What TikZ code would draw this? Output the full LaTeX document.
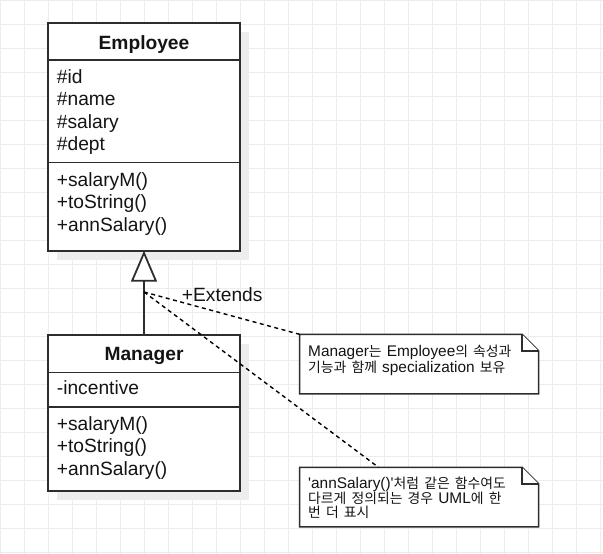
\documentclass[tikz,border=0pt]{standalone}
\usepackage{fontspec}
\setmainfont{Liberation Sans}
\newfontfamily\notefont{Liberation Sans}
\newfontfamily\krfont{Noto Sans CJK KR}[Scale=0.9]
\usetikzlibrary{positioning,arrows.meta,shadows}
\definecolor{gridgrey}{RGB}{236,236,236}
\definecolor{shadowgrey}{RGB}{237,237,237}
\definecolor{umlline}{RGB}{45,45,45}
\definecolor{umltext}{RGB}{20,20,20}
\newcommand{\kr}[1]{{\krfont #1}}

\begin{document}
\begin{tikzpicture}[x=1pt,y=-1pt,
  classpart/.style={draw=umlline,line width=1.6pt,fill=white,inner sep=0pt,outer sep=0pt,minimum width=192pt,
    drop shadow={shadow xshift=9pt,shadow yshift=-9pt,fill=shadowgrey,opacity=1}},
  divider/.style={draw=umlline,line width=1.6pt},
  member/.style={inner sep=0pt,text=umltext,font=\fontsize{19.2}{22.6}\selectfont},
  members/.style={member,text width=180pt,align=left,anchor=base west},
  notetext/.style={inner sep=0pt,text=umltext,text width=235pt,align=left,anchor=base west,
    font=\notefont\fontsize{15.4}{14.2}\selectfont},
  notebox/.style={inner sep=0pt,outer sep=0pt,minimum width=239pt,minimum height=59.5pt,anchor=north west},
  noteline/.style={draw=umlline,line width=1.5pt,fill=white},
  dashedline/.style={draw=black,line width=1.4pt,dash pattern=on 4pt off 3.5pt},
  extendsline/.style={draw=umlline,line width=1.8pt,-{Triangle[width=26pt,length=31pt,fill=white]}}]
\useasboundingbox (0,0) rectangle (603,554);
\fill[white] (0,0) rectangle (603,554);
\draw[gridgrey,line width=1pt,step=24pt] (0pt,0pt) grid (603pt,-554pt);

\node[classpart,anchor=north west,minimum height=37pt] (emphead) at (48,23) {};
\node[classpart,minimum height=102.3pt,below=0pt of emphead] (empattr) {};
\node[classpart,minimum height=88.4pt,below=0pt of empattr] (empops) {};
\draw[divider] (empattr.north west) -- (empattr.north east);
\draw[divider] (empops.north west) -- (empops.north east);
\node[member,anchor=base,font=\fontsize{19.2}{22.6}\selectfont\bfseries] (empname) at ([yshift=-26pt]emphead.north) {Employee};
\node[members] (empattrtext) at ([xshift=8.7pt,yshift=-23pt]empattr.north west) {\#id\\\#name\\\#salary\\\#dept};
\node[members] (empopstext) at ([xshift=8.7pt,yshift=-24pt]empops.north west) {+salaryM()\\+toString()\\+annSalary()};

\node[classpart,anchor=north west,minimum height=37.3pt] (mgrhead) at (48,335) {};
\node[classpart,minimum height=34.4pt,below=0pt of mgrhead] (mgrattr) {};
\node[classpart,minimum height=84pt,below=0pt of mgrattr] (mgrops) {};
\draw[divider] (mgrattr.north west) -- (mgrattr.north east);
\draw[divider] (mgrops.north west) -- (mgrops.north east);
\node[member,anchor=base,font=\fontsize{19.2}{22.6}\selectfont\bfseries] (mgrname) at ([yshift=-25.7pt]mgrhead.north) {Manager};
\node[members] (mgrattrtext) at ([xshift=8.7pt,yshift=-22.5pt]mgrattr.north west) {-incentive};
\node[members] (mgropstext) at ([xshift=8.7pt,yshift=-23.5pt]mgrops.north west) {+salaryM()\\+toString()\\+annSalary()};

\draw[extendsline] (mgrhead.north) -- (empops.south);
\node[member,anchor=base west] (extlabel) at (181.7,301) {+Extends};
\coordinate (extpt) at (144,292);

\node[notebox] (note1) at (299.5,334.3) {};
\draw[noteline] (note1.north west) -- ([xshift=-16.5pt]note1.north east) -- ([yshift=-16.5pt]note1.north east)
  -- (note1.south east) -- (note1.south west) -- cycle;
\draw[noteline] ([xshift=-16.5pt]note1.north east) -- ([xshift=-16.5pt,yshift=-16.5pt]note1.north east) -- ([yshift=-16.5pt]note1.north east);
\node[notetext] (note1text) at ([xshift=8.5pt,yshift=-22pt]note1.north west)
  {Manager\kr{는} Employee\kr{의 속성과}\\\kr{기능과 함께} specialization \kr{보유}};

\node[notebox] (note2) at (299.5,467.3) {};
\draw[noteline] (note2.north west) -- ([xshift=-16.5pt]note2.north east) -- ([yshift=-16.5pt]note2.north east)
  -- (note2.south east) -- (note2.south west) -- cycle;
\draw[noteline] ([xshift=-16.5pt]note2.north east) -- ([xshift=-16.5pt,yshift=-16.5pt]note2.north east) -- ([yshift=-16.5pt]note2.north east);
\node[notetext] (note2text) at ([xshift=8.5pt,yshift=-20.7pt]note2.north west)
  {'annSalary()'\kr{처럼 같은 함수여도}\\\kr{다르게 정의되는 경우} UML\kr{에 한}\\\kr{번 더 표시}};

\draw[dashedline] (extpt) -- (note1.north west);
\draw[dashedline] (extpt) -- ([xshift=79pt]note2.north west);
\end{tikzpicture}
\end{document}
